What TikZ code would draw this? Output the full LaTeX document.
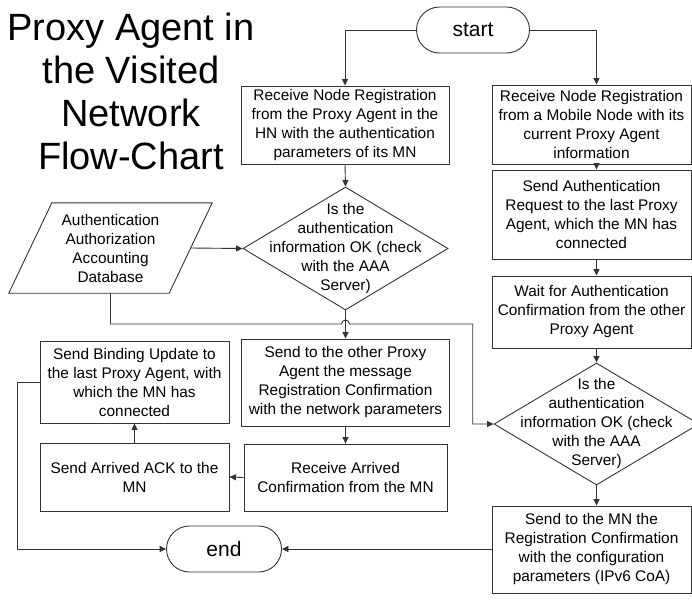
\documentclass[tikz,border=0pt]{standalone}
\usepackage{fontspec}
\setmainfont{Liberation Sans}
\usetikzlibrary{shapes.geometric,shapes.misc,arrows.meta,calc}
\begin{document}
\begin{tikzpicture}[x=1pt,y=1pt,
  line/.style={draw=black!80, line width=0.9pt},
  arr/.style={line, -{Triangle[length=6.5pt,width=6pt]}},
  box/.style={line, rectangle, inner sep=0pt, align=center, font=\fontsize{15.4}{19}\selectfont, text=black},
  rbox/.style={box, minimum width=199pt},
  term/.style={line, rounded rectangle, minimum height=46pt, inner sep=0pt, font=\fontsize{21}{25}\selectfont},
  decision/.style={line, diamond, inner sep=0pt},
  dectext/.style={align=center, inner sep=0pt, font=\fontsize{15.4}{19}\selectfont},
]
\useasboundingbox (0,0) rectangle (692,-599);

% title
\node[font=\fontsize{38}{43}\selectfont, align=center, inner sep=0pt] (title) at (131,-91) {Proxy Agent in\\the Visited\\Network\\Flow-Chart};

% terminals
\node[term, minimum width=113pt] (start) at (473,-30) {start};
\node[term, minimum width=115pt] (end) at (224,-549) {end};

% left column
\node[box, minimum width=208pt, minimum height=78pt] (L1) at (345,-125) {Receive Node Registration\\from the Proxy Agent in the\\HN with the authentication\\parameters of its MN};
\node[decision, minimum width=205pt, minimum height=123pt] (D1) at (345.5,-248.5) {};
\node[dectext] (D1t) at (D1.center) {Is the\\authentication\\information OK (check\\with the AAA\\Server)};
\node[box, minimum width=208pt, minimum height=87pt] (M1) at (345.5,-382.5) {Send to the other Proxy\\Agent the message\\Registration Confirmation\\with the network parameters};
\node[box, minimum width=203pt, minimum height=67pt] (M2) at (345.5,-477.5) {Receive Arrived\\Confirmation from the MN};
\node[box, minimum width=189pt, minimum height=82pt] (B1) at (134.5,-382) {Send Binding Update to\\the last Proxy Agent, with\\which the MN has\\connected};
\node[box, minimum width=189pt, minimum height=68pt] (B2) at (134.5,-477) {Send Arrived ACK to the\\MN};

% database (parallelogram)
\node[align=center, inner sep=0pt, minimum width=160pt, minimum height=90pt, font=\fontsize{15.4}{19}\selectfont] (db) at (110.5,-248) {Authentication\\Authorization\\Accounting\\Database};
\draw[line] ($(db.north west)+(21.5,0)$) -- ($(db.north east)+(21.5,0)$) -- ($(db.south east)+(-21.5,0)$) -- ($(db.south west)+(-21.5,0)$) -- cycle;

% right column
\node[rbox, minimum height=79pt] (R1) at (591.5,-124.5) {Receive Node Registration\\from a Mobile Node with its\\current Proxy Agent\\information};
\node[rbox, minimum height=89pt] (R2) at (591.5,-214.5) {Send Authentication\\Request to the last Proxy\\Agent, which the MN has\\connected};
\node[rbox, minimum height=72pt] (R3) at (591.5,-312) {Wait for Authentication\\Confirmation from the other\\Proxy Agent};
\node[decision, minimum width=205pt, minimum height=122pt] (D2) at (596.5,-424) {};
\node[dectext] (D2t) at (D2.center) {Is the\\authentication\\information OK (check\\with the AAA\\Server)};
\node[rbox, minimum height=87pt] (R4) at (591.5,-549.5) {Send to the MN the\\Registration Confirmation\\with the configuration\\parameters (IPv6 CoA)};

% helper coordinates
\coordinate (rc) at (596.5,0);
\coordinate (lvl) at (0,-324);
\coordinate (jx) at (472.7,0);

% connectors
\draw[arr] (start.west) -| (L1.north);
\draw[arr] (start.east) -| (R1.north -| rc);
\draw[arr] (L1.south) -- (D1.north);
\draw[arr] (db.east) -- (D1.west);
\draw[arr] (D1.south) -- (M1.north);
\draw[arr] (M1.south) -- (M2.north);
\draw[arr] (M2.west) -- (B2.east);
\draw[arr] (B2.north) -- (B1.south);
\draw[arr] (B1.west) -- ++(-22,0) |- (end.west);
\draw[arr] (db.south) |- ($(D1.south |- lvl)+(-4,0)$) arc[start angle=180,end angle=0,radius=4pt] -| (jx |- D2.west) -- (D2.west);
\draw[arr] (R1.south -| rc) -- (R2.north -| rc);
\draw[arr] (R2.south -| rc) -- (R3.north -| rc);
\draw[arr] (R3.south -| rc) -- (D2.north);
\draw[arr] (D2.south) -- (R4.north -| rc);
\draw[arr] (R4.west |- end.east) -- (end.east);
\end{tikzpicture}
\end{document}
